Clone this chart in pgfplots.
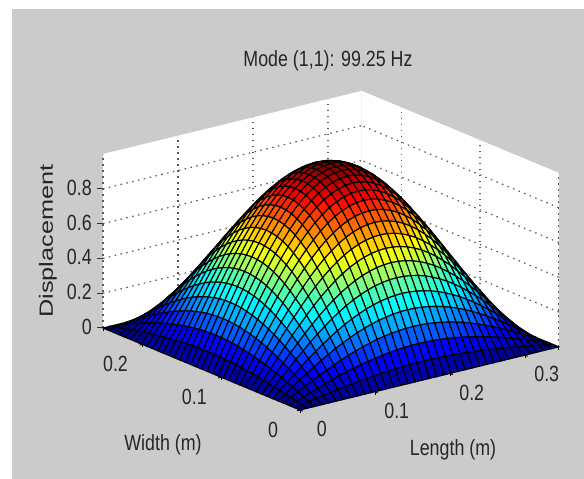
\documentclass[border=0pt]{standalone}
\usepackage{graphicx}
\usepackage{fontspec}
\setmainfont[FakeStretch=0.81]{Liberation Sans}
\usepackage{pgfplots}
\pgfplotsset{compat=1.18}
\definecolor{figgray}{HTML}{CBCBCB}
\pgfplotsset{
  chartgeom/.style={
    x={(750pt,183pt)}, y={(-788pt,328pt)}, z={(0pt,174pt)},
    xmin=0, xmax=0.345, ymin=0, ymax=0.25, zmin=0, zmax=1,
    clip=false,
  },
}
\begin{document}
\begin{tikzpicture}
\begin{axis}[chartgeom, hide axis]
  \path[fill=white] ([shift={(-300pt,-69pt)}]axis cs:0,0,0) rectangle ([shift={(284pt,410pt)}]axis cs:0,0,0);
  \path[fill=figgray] ([shift={(-288pt,-69pt)}]axis cs:0,0,0) rectangle ([shift={(284pt,401pt)}]axis cs:0,0,0);
  \fill[white] (axis cs:0,0.25,0)--(axis cs:0.345,0.25,0)--(axis cs:0.345,0.25,1)--(axis cs:0,0.25,1)--cycle;
  \fill[white] (axis cs:0.345,0.25,0)--(axis cs:0.345,0,0)--(axis cs:0.345,0,1)--(axis cs:0.345,0.25,1)--cycle;
  \draw[black!65,dash pattern=on 1.5pt off 4.5pt,line width=1.2pt] (axis cs:0,0.25,0)--(axis cs:0,0.25,1);
  \draw[black!65,dash pattern=on 1.5pt off 4.5pt,line width=1.2pt] (axis cs:0.345,0,0)--(axis cs:0.345,0,1);
  \foreach \zt in {0,0.2,0.4,0.6,0.8} {
    \edef\tmp{\noexpand\draw[black!80,line width=1pt] (axis cs:0,0.25,\zt)--++(-6pt,0pt);}\tmp
  }
\end{axis}
\begin{axis}[chartgeom,
  colormap/jet, point meta min=0, point meta max=1,
  axis line style={draw=none},
  grid=major, grid style={dash pattern=on 1.5pt off 4.5pt, black!65, line width=1.2pt},
  xtick={0,0.1,0.2,0.3}, ytick={0,0.1,0.2}, ztick={0,0.2,0.4,0.6,0.8},
  xticklabels={0,0.1,0.2,0.3}, yticklabels={0,0.1,0.2}, zticklabels={0,0.2,0.4,0.6,0.8},
  tick align=outside, major tick length=3pt,
  xtick pos=left, ytick pos=left, ztick pos=left,
  tick style={black, line width=0.9pt},
  every z tick/.style={draw=none},
  tick label style={font=\fontsize{22}{24}\selectfont, text=black!85},
  xticklabel style={anchor=center, xshift=19pt, yshift=-18pt},
  yticklabel style={anchor=center, xshift=-24pt, yshift=-19pt},
  zticklabel style={anchor=east, xshift=-5pt},
  title={Mode (1,1): 99.25 Hz}, xlabel={Length (m)}, ylabel={Width (m)},
  zlabel={\rotatebox{90}{\scalebox{1.42}[0.87]{Displacement}}},
  every axis title/.style={at={(axis cs:0,0,0)}, anchor=center, xshift=28pt, yshift=349pt, font=\fontsize{22}{24}\selectfont, text=black!85},
  every axis x label/.style={at={(axis cs:0,0,0)}, anchor=center, xshift=153pt, yshift=-40pt, font=\fontsize{22}{24}\selectfont, text=black!85},
  every axis y label/.style={at={(axis cs:0,0,0)}, anchor=center, xshift=-137pt, yshift=-35pt, font=\fontsize{22}{24}\selectfont, text=black!85},
  every axis z label/.style={at={(axis cs:0,0,0)}, anchor=center, xshift=-252pt, yshift=169pt, font=\fontsize{22}{24}\selectfont, text=black!85},
]
\addplot3[surf, shader=faceted, faceted color=black, line width=1.1pt, z buffer=none, mesh/cols=37, mesh/ordering=x varies]
  table[header=false, x index=0, y index=0, z index=0,
        x expr={(36-(\coordindex-37*floor((\coordindex+0.5)/37)))*0.345/36},
        y expr={(36-floor((\coordindex+0.5)/37))*0.25/36}] {
0
0
0
0
0
0
0
0
0
0
0
0
0
0
0
0
0
0
0
0
0
0
0
0
0
0
0
0
0
0
0
0
0
0
0
0
0
0
0.008
0.015
0.023
0.030
0.037
0.044
0.050
0.056
0.062
0.067
0.071
0.076
0.079
0.082
0.084
0.086
0.087
0.087
0.087
0.086
0.084
0.082
0.079
0.076
0.071
0.067
0.062
0.056
0.050
0.044
0.037
0.030
0.023
0.015
0.008
0
0
0.015
0.030
0.045
0.059
0.073
0.087
0.100
0.112
0.123
0.133
0.142
0.150
0.157
0.163
0.168
0.171
0.173
0.174
0.173
0.171
0.168
0.163
0.157
0.150
0.142
0.133
0.123
0.112
0.100
0.087
0.073
0.059
0.045
0.030
0.015
0
0
0.023
0.045
0.067
0.089
0.109
0.129
0.148
0.166
0.183
0.198
0.212
0.224
0.235
0.243
0.250
0.255
0.258
0.259
0.258
0.255
0.250
0.243
0.235
0.224
0.212
0.198
0.183
0.166
0.148
0.129
0.109
0.089
0.067
0.045
0.023
0
0
0.030
0.059
0.089
0.117
0.145
0.171
0.196
0.220
0.242
0.262
0.280
0.296
0.310
0.321
0.330
0.337
0.341
0.342
0.341
0.337
0.330
0.321
0.310
0.296
0.280
0.262
0.242
0.220
0.196
0.171
0.145
0.117
0.089
0.059
0.030
0
0
0.037
0.073
0.109
0.145
0.179
0.211
0.242
0.272
0.299
0.324
0.346
0.366
0.383
0.397
0.408
0.416
0.421
0.423
0.421
0.416
0.408
0.397
0.383
0.366
0.346
0.324
0.299
0.272
0.242
0.211
0.179
0.145
0.109
0.073
0.037
0
0
0.044
0.087
0.129
0.171
0.211
0.250
0.287
0.321
0.354
0.383
0.410
0.433
0.453
0.470
0.483
0.492
0.498
0.500
0.498
0.492
0.483
0.470
0.453
0.433
0.410
0.383
0.354
0.321
0.287
0.250
0.211
0.171
0.129
0.087
0.044
0
0
0.050
0.100
0.148
0.196
0.242
0.287
0.329
0.369
0.406
0.439
0.470
0.497
0.520
0.539
0.554
0.565
0.571
0.574
0.571
0.565
0.554
0.539
0.520
0.497
0.470
0.439
0.406
0.369
0.329
0.287
0.242
0.196
0.148
0.100
0.050
0
0
0.056
0.112
0.166
0.220
0.272
0.321
0.369
0.413
0.455
0.492
0.527
0.557
0.583
0.604
0.621
0.633
0.640
0.643
0.640
0.633
0.621
0.604
0.583
0.557
0.527
0.492
0.455
0.413
0.369
0.321
0.272
0.220
0.166
0.112
0.056
0
0
0.062
0.123
0.183
0.242
0.299
0.354
0.406
0.455
0.500
0.542
0.579
0.612
0.641
0.664
0.683
0.696
0.704
0.707
0.704
0.696
0.683
0.664
0.641
0.612
0.579
0.542
0.500
0.455
0.406
0.354
0.299
0.242
0.183
0.123
0.062
0
0
0.067
0.133
0.198
0.262
0.324
0.383
0.439
0.492
0.542
0.587
0.627
0.663
0.694
0.720
0.740
0.754
0.763
0.766
0.763
0.754
0.740
0.720
0.694
0.663
0.627
0.587
0.542
0.492
0.439
0.383
0.324
0.262
0.198
0.133
0.067
0
0
0.071
0.142
0.212
0.280
0.346
0.410
0.470
0.527
0.579
0.627
0.671
0.709
0.742
0.770
0.791
0.807
0.816
0.819
0.816
0.807
0.791
0.770
0.742
0.709
0.671
0.627
0.579
0.527
0.470
0.410
0.346
0.280
0.212
0.142
0.071
0
0
0.076
0.150
0.224
0.296
0.366
0.433
0.497
0.557
0.612
0.663
0.709
0.750
0.785
0.814
0.836
0.853
0.863
0.866
0.863
0.853
0.836
0.814
0.785
0.750
0.709
0.663
0.612
0.557
0.497
0.433
0.366
0.296
0.224
0.150
0.076
0
0
0.079
0.157
0.235
0.310
0.383
0.453
0.520
0.583
0.641
0.694
0.742
0.785
0.821
0.852
0.875
0.893
0.903
0.906
0.903
0.893
0.875
0.852
0.821
0.785
0.742
0.694
0.641
0.583
0.520
0.453
0.383
0.310
0.235
0.157
0.079
0
0
0.082
0.163
0.243
0.321
0.397
0.470
0.539
0.604
0.664
0.720
0.770
0.814
0.852
0.883
0.908
0.925
0.936
0.940
0.936
0.925
0.908
0.883
0.852
0.814
0.770
0.720
0.664
0.604
0.539
0.470
0.397
0.321
0.243
0.163
0.082
0
0
0.084
0.168
0.250
0.330
0.408
0.483
0.554
0.621
0.683
0.740
0.791
0.836
0.875
0.908
0.933
0.951
0.962
0.966
0.962
0.951
0.933
0.908
0.875
0.836
0.791
0.740
0.683
0.621
0.554
0.483
0.408
0.330
0.250
0.168
0.084
0
0
0.086
0.171
0.255
0.337
0.416
0.492
0.565
0.633
0.696
0.754
0.807
0.853
0.893
0.925
0.951
0.970
0.981
0.985
0.981
0.970
0.951
0.925
0.893
0.853
0.807
0.754
0.696
0.633
0.565
0.492
0.416
0.337
0.255
0.171
0.086
0
0
0.087
0.173
0.258
0.341
0.421
0.498
0.571
0.640
0.704
0.763
0.816
0.863
0.903
0.936
0.962
0.981
0.992
0.996
0.992
0.981
0.962
0.936
0.903
0.863
0.816
0.763
0.704
0.640
0.571
0.498
0.421
0.341
0.258
0.173
0.087
0
0
0.087
0.174
0.259
0.342
0.423
0.500
0.574
0.643
0.707
0.766
0.819
0.866
0.906
0.940
0.966
0.985
0.996
1
0.996
0.985
0.966
0.940
0.906
0.866
0.819
0.766
0.707
0.643
0.574
0.500
0.423
0.342
0.259
0.174
0.087
0
0
0.087
0.173
0.258
0.341
0.421
0.498
0.571
0.640
0.704
0.763
0.816
0.863
0.903
0.936
0.962
0.981
0.992
0.996
0.992
0.981
0.962
0.936
0.903
0.863
0.816
0.763
0.704
0.640
0.571
0.498
0.421
0.341
0.258
0.173
0.087
0
0
0.086
0.171
0.255
0.337
0.416
0.492
0.565
0.633
0.696
0.754
0.807
0.853
0.893
0.925
0.951
0.970
0.981
0.985
0.981
0.970
0.951
0.925
0.893
0.853
0.807
0.754
0.696
0.633
0.565
0.492
0.416
0.337
0.255
0.171
0.086
0
0
0.084
0.168
0.250
0.330
0.408
0.483
0.554
0.621
0.683
0.740
0.791
0.836
0.875
0.908
0.933
0.951
0.962
0.966
0.962
0.951
0.933
0.908
0.875
0.836
0.791
0.740
0.683
0.621
0.554
0.483
0.408
0.330
0.250
0.168
0.084
0
0
0.082
0.163
0.243
0.321
0.397
0.470
0.539
0.604
0.664
0.720
0.770
0.814
0.852
0.883
0.908
0.925
0.936
0.940
0.936
0.925
0.908
0.883
0.852
0.814
0.770
0.720
0.664
0.604
0.539
0.470
0.397
0.321
0.243
0.163
0.082
0
0
0.079
0.157
0.235
0.310
0.383
0.453
0.520
0.583
0.641
0.694
0.742
0.785
0.821
0.852
0.875
0.893
0.903
0.906
0.903
0.893
0.875
0.852
0.821
0.785
0.742
0.694
0.641
0.583
0.520
0.453
0.383
0.310
0.235
0.157
0.079
0
0
0.076
0.150
0.224
0.296
0.366
0.433
0.497
0.557
0.612
0.663
0.709
0.750
0.785
0.814
0.836
0.853
0.863
0.866
0.863
0.853
0.836
0.814
0.785
0.750
0.709
0.663
0.612
0.557
0.497
0.433
0.366
0.296
0.224
0.150
0.076
0
0
0.071
0.142
0.212
0.280
0.346
0.410
0.470
0.527
0.579
0.627
0.671
0.709
0.742
0.770
0.791
0.807
0.816
0.819
0.816
0.807
0.791
0.770
0.742
0.709
0.671
0.627
0.579
0.527
0.470
0.410
0.346
0.280
0.212
0.142
0.071
0
0
0.067
0.133
0.198
0.262
0.324
0.383
0.439
0.492
0.542
0.587
0.627
0.663
0.694
0.720
0.740
0.754
0.763
0.766
0.763
0.754
0.740
0.720
0.694
0.663
0.627
0.587
0.542
0.492
0.439
0.383
0.324
0.262
0.198
0.133
0.067
0
0
0.062
0.123
0.183
0.242
0.299
0.354
0.406
0.455
0.500
0.542
0.579
0.612
0.641
0.664
0.683
0.696
0.704
0.707
0.704
0.696
0.683
0.664
0.641
0.612
0.579
0.542
0.500
0.455
0.406
0.354
0.299
0.242
0.183
0.123
0.062
0
0
0.056
0.112
0.166
0.220
0.272
0.321
0.369
0.413
0.455
0.492
0.527
0.557
0.583
0.604
0.621
0.633
0.640
0.643
0.640
0.633
0.621
0.604
0.583
0.557
0.527
0.492
0.455
0.413
0.369
0.321
0.272
0.220
0.166
0.112
0.056
0
0
0.050
0.100
0.148
0.196
0.242
0.287
0.329
0.369
0.406
0.439
0.470
0.497
0.520
0.539
0.554
0.565
0.571
0.574
0.571
0.565
0.554
0.539
0.520
0.497
0.470
0.439
0.406
0.369
0.329
0.287
0.242
0.196
0.148
0.100
0.050
0
0
0.044
0.087
0.129
0.171
0.211
0.250
0.287
0.321
0.354
0.383
0.410
0.433
0.453
0.470
0.483
0.492
0.498
0.500
0.498
0.492
0.483
0.470
0.453
0.433
0.410
0.383
0.354
0.321
0.287
0.250
0.211
0.171
0.129
0.087
0.044
0
0
0.037
0.073
0.109
0.145
0.179
0.211
0.242
0.272
0.299
0.324
0.346
0.366
0.383
0.397
0.408
0.416
0.421
0.423
0.421
0.416
0.408
0.397
0.383
0.366
0.346
0.324
0.299
0.272
0.242
0.211
0.179
0.145
0.109
0.073
0.037
0
0
0.030
0.059
0.089
0.117
0.145
0.171
0.196
0.220
0.242
0.262
0.280
0.296
0.310
0.321
0.330
0.337
0.341
0.342
0.341
0.337
0.330
0.321
0.310
0.296
0.280
0.262
0.242
0.220
0.196
0.171
0.145
0.117
0.089
0.059
0.030
0
0
0.023
0.045
0.067
0.089
0.109
0.129
0.148
0.166
0.183
0.198
0.212
0.224
0.235
0.243
0.250
0.255
0.258
0.259
0.258
0.255
0.250
0.243
0.235
0.224
0.212
0.198
0.183
0.166
0.148
0.129
0.109
0.089
0.067
0.045
0.023
0
0
0.015
0.030
0.045
0.059
0.073
0.087
0.100
0.112
0.123
0.133
0.142
0.150
0.157
0.163
0.168
0.171
0.173
0.174
0.173
0.171
0.168
0.163
0.157
0.150
0.142
0.133
0.123
0.112
0.100
0.087
0.073
0.059
0.045
0.030
0.015
0
0
0.008
0.015
0.023
0.030
0.037
0.044
0.050
0.056
0.062
0.067
0.071
0.076
0.079
0.082
0.084
0.086
0.087
0.087
0.087
0.086
0.084
0.082
0.079
0.076
0.071
0.067
0.062
0.056
0.050
0.044
0.037
0.030
0.023
0.015
0.008
0
0
0
0
0
0
0
0
0
0
0
0
0
0
0
0
0
0
0
0
0
0
0
0
0
0
0
0
0
0
0
0
0
0
0
0
0
0
};
\end{axis}
\end{tikzpicture}
\end{document}
